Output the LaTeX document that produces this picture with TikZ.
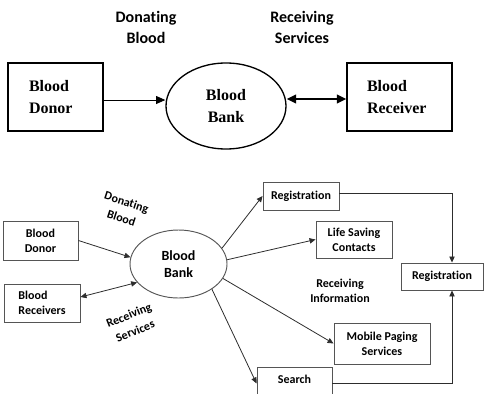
\documentclass[tikz,border=0pt]{standalone}
\usepackage{fontspec}
\setmainfont{Liberation Serif}
\newfontfamily\calibri[Ligatures=NoCommon]{Carlito}
\usepackage{tikz}
\usetikzlibrary{arrows.meta}
\usetikzlibrary{shapes.geometric}
\usepackage{color}
\definecolor{boxgray}{RGB}{85, 85, 85}
\definecolor{linegray}{RGB}{45, 45, 45}
\tikzset{
  bigbox/.style    ={draw, line width=1.1pt, minimum height=51pt, align=left, font=\fontsize{12}{16.5}\selectfont\bfseries},
  bigbank/.style   ={draw, ellipse, line width=1pt, minimum width=90pt, minimum height=64.5pt, inner sep=0pt, align=center, font=\fontsize{12}{16.5}\selectfont\bfseries},
  toplabel/.style  ={align=center, font=\calibri\fontsize{12}{16}\selectfont\bfseries},
  smallbox/.style  ={draw=boxgray, line width=0.7pt, inner sep=0pt, align=center, font=\calibri\fontsize{9}{11.5}\selectfont\bfseries},
  smallbank/.style ={draw=boxgray, ellipse, line width=0.7pt, minimum width=72.75pt, minimum height=51pt, inner sep=0pt, align=center, font=\calibri\fontsize{10.5}{13}\selectfont\bfseries},
  sidelabel/.style ={align=center, font=\calibri\fontsize{9}{11.25}\selectfont\bfseries},
  slantlabel/.style={align=center, font=\calibri\fontsize{9}{12.75}\selectfont\bfseries},
  thinarrow/.style ={draw=linegray, line width=0.6pt, -{Triangle[length=4.5pt, width=4pt]}},
  twowayarrow/.style={draw=linegray, line width=0.6pt, {Triangle[length=4.5pt, width=4pt]}-{Triangle[length=4.5pt, width=4pt]}},
}
\begin{document}
\begin{tikzpicture}[x=0.75pt, y=-0.75pt]
            \useasboundingbox (0,0) rectangle (484,393);
            \clip              (0,0) rectangle (484,393);

            \node[bigbox, text width=39.75pt, inner xsep=15.75pt] (donor)     at ( 55.5,  97.0) {Blood\\Donor};
            \node[bigbank]                                        (bank)      at (226.0, 106.0) {Blood\\Bank};
            \node[bigbox, text width=48.75pt, inner xsep=15pt]    (receiver)  at (399.5,  97.0) {Blood\\Receiver};
            \node[toplabel]                                       (donating)  at (146.0,  27.5) {Donating\\Blood};
            \node[toplabel]                                       (receiving) at (302.0,  27.5) {Receiving\\Services};
            \draw[line width=0.6pt, -{Triangle[length=7pt, width=6pt]}]
                 ([yshift=-2.25pt]donor.east) -- ([yshift=-2.25pt]donor.east -| bank.west);
            \draw[line width=1.3pt, {Triangle[length=7pt, width=6.5pt]}-{Triangle[length=7pt, width=6.5pt]}]
                 ([yshift=-1.5pt]receiver.west -| bank.east) -- ([yshift=-1.5pt]receiver.west);

            \node[smallbox, minimum width=56.25pt, minimum height=29.25pt]             (donor2)      at ( 40.5, 240.5) {Blood\\Donor};
            \node[smallbox, minimum width=57pt,    minimum height=28.5pt, align=left]  (receivers)   at ( 42.0, 303.0) {Blood\\Receivers};
            \node[smallbank]                                                           (bank2)       at (178.5, 264.0) {Blood\\Bank};
            \node[smallbox, minimum width=57pt,    minimum height=21pt]                (reg1)        at (301.0, 196.0) {Registration};
            \node[smallbox, minimum width=57pt,    minimum height=27.75pt]             (life)        at (354.0, 239.5) {Life Saving\\Contacts};
            \node[smallbox, minimum width=61.5pt,  minimum height=20.25pt]             (reg2)        at (442.0, 276.5) {Registration};
            \node[smallbox, minimum width=72pt,    minimum height=30.75pt]             (mobile)      at (382.0, 343.5) {Mobile Paging\\Services};
            \node[smallbox, minimum width=56.25pt, anchor=north, text height=7pt, text depth=22pt, inner ysep=5pt]
                                                                                       (search)      at (294.5, 367.0) {Search};
            \node[slantlabel, rotate=-18]                                              (donating2)   at (124.0, 210.0) {Donating\\Blood};
            \node[slantlabel, rotate=22]                                               (receiving2)  at (132.0, 323.0) {Receiving\\Services};
            \node[sidelabel]                                                           (information) at (340.0, 290.5) {Receiving\\Information};

            \draw[thinarrow]   (donor2.east)                 -- (bank2.172);
            \draw[twowayarrow] ([yshift=4.5pt]receivers.east) -- (bank2.204);
            \draw[thinarrow]   (bank2.20)                    -- (reg1.west);
            \draw[thinarrow]   (bank2.5)                     -- (life.west);
            \draw[thinarrow]   (bank2.-18)                   -- (mobile.west);
            \draw[thinarrow]   (bank2.-37)                   -- (search.base west);
            \draw[thinarrow]   ([yshift=2.25pt]reg1.east)    -| ([xshift=7.5pt]reg2.north);
            \draw[thinarrow]   (search.base east)            -| ([xshift=7.5pt]reg2.south);
        \end{tikzpicture}
\end{document}
